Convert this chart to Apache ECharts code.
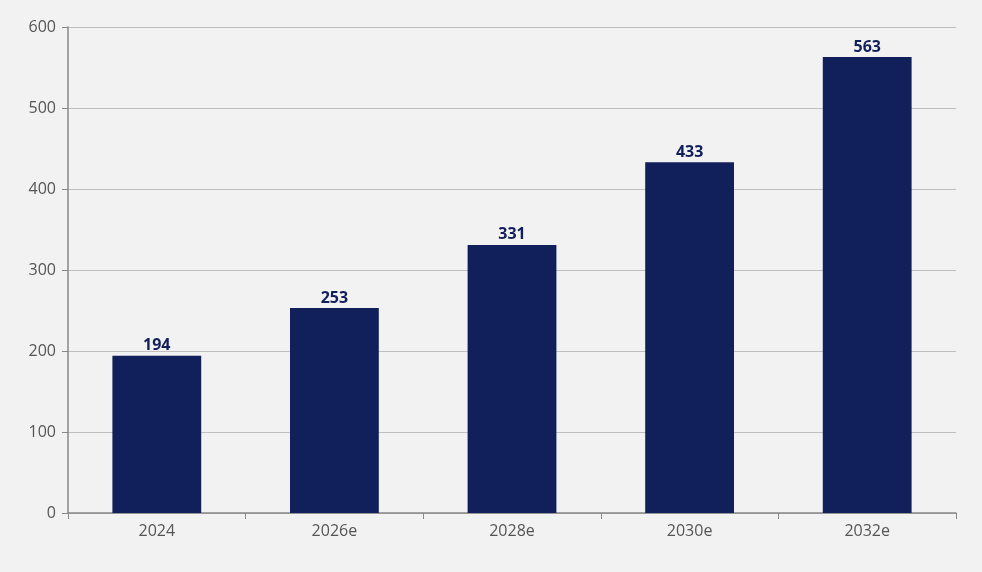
<!DOCTYPE html>
<html><head><meta charset="utf-8">
<script src="https://cdn.jsdelivr.net/npm/echarts@6/dist/echarts.min.js"></script>
<style>html,body{margin:0;padding:0;background:#f2f2f2}#c{width:982px;height:572px}</style>
</head><body><div id="c"></div>
<script>
const categories = ['2024','2026e','2028e','2030e','2032e'];
const values = [194,253,331,433,563];
const chart = echarts.init(document.getElementById('c'));
chart.setOption({
  backgroundColor:'#f2f2f2',
  animation:false,
  grid:{left:68,right:26,top:27,bottom:59},
  xAxis:{type:'category',data:categories,
    axisLine:{lineStyle:{color:'#888',width:1.5}},
    axisTick:{show:true,length:6,lineStyle:{color:'#888'}},
    axisLabel:{color:'#555',fontSize:16,fontFamily:'Open Sans',margin:10}},
  yAxis:{type:'value',min:0,max:600,interval:100,
    axisLine:{show:true,lineStyle:{color:'#888',width:1.5}},
    axisTick:{show:true,length:6,lineStyle:{color:'#888'}},
    splitLine:{lineStyle:{color:'#bfbfbf'}},
    axisLabel:{color:'#555',fontSize:16,fontFamily:'Open Sans',margin:12}},
  series:[{type:'bar',data:values,barWidth:'50%',
    itemStyle:{color:'#111f5a'},
    label:{show:true,position:'top',distance:2,color:'#111f5a',fontWeight:'bold',fontSize:16,fontFamily:'Open Sans'}}]
});
</script></body></html>
